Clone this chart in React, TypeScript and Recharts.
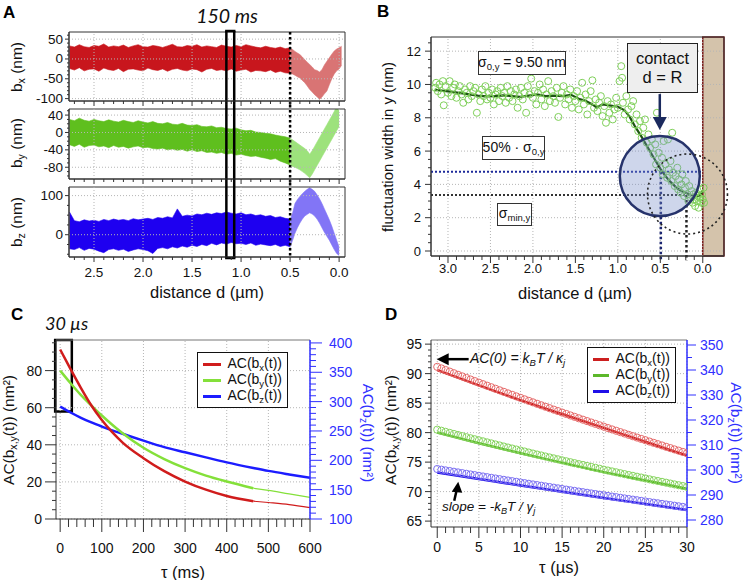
import React from 'react';
import {
  ComposedChart, Area, Line, Scatter, XAxis, YAxis,
  ReferenceLine, ReferenceArea, ReferenceDot, Legend,
} from 'recharts';

const FONT = '"Liberation Sans", Arial, Helvetica, sans-serif';
const AXIS = '#333';
const GRID = '#b5b5b5';
const RIGHT_BLUE = '#3030ff';

// ---------- A: bead traces versus distance ----------
const aDistDark = [2.75, 2.7, 2.65, 2.6, 2.55, 2.5, 2.45, 2.4, 2.35, 2.3, 2.25, 2.2, 2.15, 2.1, 2.05, 2.0, 1.95, 1.9, 1.85, 1.8, 1.75, 1.7, 1.65, 1.6, 1.55, 1.5, 1.45, 1.4, 1.35, 1.3, 1.25, 1.2, 1.15, 1.1, 1.05, 1.0, 0.95, 0.9, 0.85, 0.8, 0.75, 0.7, 0.65, 0.6, 0.55, 0.5];
const aDistLight = [0.5, 0.475, 0.45, 0.425, 0.4, 0.375, 0.35, 0.325, 0.3, 0.275, 0.25, 0.225, 0.2, 0.175, 0.15, 0.125, 0.1, 0.075, 0.05, 0.025, 0, -0.025];

const bxHi = [33, 30, 36, 31, 29, 34, 32, 38, 30, 33, 31, 35, 29, 33, 36, 31, 30, 34, 32, 29, 33, 37, 31, 30, 34, 32, 36, 30, 33, 31, 29, 35, 32, 30, 34, 31, 36, 33, 30, 28, 32, 29, 27, 30, 26, 28];
const bxLo = [-24, -28, -22, -30, -26, -25, -31, -23, -27, -29, -24, -32, -26, -25, -28, -30, -23, -27, -29, -25, -31, -26, -24, -28, -30, -25, -27, -33, -26, -24, -29, -27, -30, -25, -31, -28, -26, -33, -29, -30, -32, -28, -34, -31, -35, -36];
const bxNearHi = [27, 24, 19, 15, 11, 5, -2, -8, -14, -20, -27, -29, -33, -27, -15, -6, 3, 12, 20, 25, 28, 32];
const bxNearLo = [-36, -38, -41, -45, -48, -54, -60, -68, -77, -83, -90, -95, -102, -96, -88, -81, -65, -50, -38, -30, -25, -16];

const byHi = [30, 27, 33, 28, 26, 30, 27, 25, 29, 26, 24, 28, 25, 23, 27, 24, 22, 25, 21, 20, 23, 19, 18, 21, 17, 16, 18, 14, 13, 15, 11, 12, 9, 8, 10, 6, 4, 5, 1, 0, -2, -3, -6, -8, -10, -13];
const byLo = [-28, -32, -27, -34, -30, -29, -33, -31, -35, -30, -34, -32, -36, -33, -31, -35, -34, -37, -38, -36, -40, -38, -41, -39, -43, -40, -44, -42, -46, -45, -48, -46, -50, -48, -52, -50, -53, -55, -54, -57, -59, -62, -60, -66, -70, -75];
const byNearHi = [-13, -17, -21, -25, -29, -33, -37, -42, -50, -42, -32, -22, -12, -2, 8, 18, 28, 38, 48, 60, 62, null];
const byNearLo = [-75, -78, -80, -83, -86, -90, -94, -99, -104, -96, -86, -76, -66, -56, -46, -36, -26, -16, -6, 4, 14, null];

const bzHi = [58, 36, 33, 38, 35, 37, 34, 39, 36, 40, 37, 39, 36, 41, 38, 40, 42, 39, 44, 42, 46, 43, 66, 47, 50, 48, 53, 51, 55, 52, 56, 54, 58, 55, 53, 56, 51, 53, 49, 51, 47, 49, 44, 46, 42, 40];
const bzLo = [-36, -38, -33, -40, -35, -37, -42, -46, -38, -36, -40, -37, -43, -39, -36, -38, -41, -48, -35, -33, -36, -31, -34, -29, -32, -27, -30, -25, -28, -22, -26, -21, -24, -20, -23, -22, -25, -21, -27, -24, -26, -28, -25, -30, -27, -31];
const bzNearHi = [38, 55, 80, 90, 98, 105, 111, 116, 120, 116, 111, 102, 92, 80, 66, 52, 38, 22, 4, -14, -32, null];
const bzNearLo = [-31, -15, 4, 18, 30, 40, 48, 52, 56, 53, 48, 40, 30, 18, 6, -4, -14, -26, -38, -48, -53, null];

const aXTicks = [2.7, 2.6, 2.5, 2.4, 2.3, 2.2, 2.1, 2.0, 1.9, 1.8, 1.7, 1.6, 1.5, 1.4, 1.3, 1.2, 1.1, 1.0, 0.9, 0.8, 0.7, 0.6, 0.5, 0.4, 0.3, 0.2, 0.1, 0];
const aXMajors = [2.5, 2.0, 1.5, 1.0, 0.5, 0];
const aY1Ticks = [-100, -90, -80, -70, -60, -50, -40, -30, -20, -10, 0, 10, 20, 30, 40, 50, 60];
const aY1Majors = [-100, -50, 0, 50];
const aY2Ticks = [-100, -90, -80, -70, -60, -50, -40, -30, -20, -10, 0, 10, 20, 30, 40, 50];
const aY2Majors = [-80, -40, 0, 40];
const aY3Ticks = [-50, -25, 0, 25, 50, 75, 100];
const aY3Majors = [0, 100];
const aWindow = [1.15, 1.07]; // the 150 ms window
const aContact = 0.5;
// vertical reach of the window / contact marker in each strip (strip units), bridging the gaps
const aReach = [[70.5, -116], [63.2, -116.2], [132.2, -59.6]];

// ---------- B: fluctuation width ----------
const bDist = [
  3.15, 3.14, 3.12, 3.10, 3.08, 3.06, 3.05, 3.03, 3.00, 2.98,
  2.96, 2.94, 2.92, 2.90, 2.88, 2.86, 2.84, 2.82, 2.80, 2.78,
  2.76, 2.74, 2.72, 2.70, 2.68, 2.66, 2.64, 2.62, 2.60, 2.58,
  2.56, 2.54, 2.52, 2.50, 2.48, 2.46, 2.44, 2.42, 2.40, 2.38,
  2.36, 2.34, 2.32, 2.30, 2.28, 2.26, 2.24, 2.22, 2.20, 2.18,
  2.16, 2.14, 2.12, 2.10, 2.08, 2.06, 2.04, 2.02, 2.00, 1.98,
  1.96, 1.94, 1.92, 1.90, 1.88, 1.86, 1.84, 1.82, 1.80, 1.78,
  1.76, 1.74, 1.72, 1.70, 1.68, 1.66, 1.64, 1.62, 1.60, 1.58,
  1.56, 1.54, 1.52, 1.50, 1.48, 1.46, 1.44, 1.42, 1.40, 1.38,
  1.36, 1.34, 1.32, 1.30, 1.28, 1.26, 1.24, 1.22, 1.20, 1.18,
  1.16, 1.14, 1.12, 1.10, 1.08, 1.06, 1.04, 1.02, 1.00, 0.98,
  0.96, 0.95, 0.94, 0.92, 0.90, 0.88, 0.86, 0.84, 0.82, 0.80,
  0.78, 0.76, 0.74, 0.72, 0.70, 0.68, 0.66, 0.64, 0.62, 0.60,
  0.58, 0.56, 0.55, 0.54, 0.52, 0.50, 0.48, 0.47, 0.46, 0.44,
  0.42, 0.41, 0.40, 0.38, 0.37, 0.36, 0.35, 0.33, 0.32, 0.30,
  0.29, 0.28, 0.26, 0.25, 0.24, 0.22, 0.21, 0.20, 0.18, 0.17,
  0.16, 0.14, 0.13, 0.12, 0.11, 0.10, 0.09, 0.08, 0.07, 0.06,
  0.05, 0.04, 0.03, 0.02, 0.01, 0.00, -0.01, -0.015,
];
const bWidth = [
  9.8, 10.1, 9.6, 10.0, 9.4, 10.2, 8.75, 9.9, 9.5, 10.2,
  9.3, 9.8, 10.0, 9.2, 9.6, 9.9, 9.4, 8.9, 9.7, 9.5,
  9.1, 9.9, 9.3, 9.6, 9.8, 8.3, 9.4, 9.0, 9.7, 9.3,
  9.9, 9.1, 9.5, 9.2, 9.7, 8.8, 9.4, 9.6, 9.0, 9.8,
  9.3, 9.5, 8.9, 9.9, 9.2, 9.6, 9.0, 9.4, 9.7, 8.6,
  9.3, 9.8, 9.1, 9.5, 8.3, 9.9, 9.4, 10.35, 9.2, 9.6,
  8.8, 9.5, 10.0, 9.1, 9.7, 8.7, 9.4, 10.2, 9.0, 9.6,
  9.3, 8.9, 9.8, 8.05, 9.2, 9.5, 9.9, 8.8, 9.4, 9.1,
  9.7, 8.6, 9.3, 9.0, 9.6, 8.5, 9.2, 10.1, 8.8, 9.4,
  8.2, 9.0, 9.6, 10.25, 8.6, 9.1, 8.4, 8.9, 9.3, 8.1,
  8.7, 7.7, 9.0, 8.3, 8.8, 7.9, 8.5, 9.2, 8.6, 10.2,
  11.1, 10.4, 8.9, 8.2, 9.3, 8.5, 7.9, 8.7, 9.0, 7.6,
  8.2, 7.2, 7.8, 6.8, 7.4, 7.9, 6.5, 7.0, 6.2, 6.7,
  5.8, 6.4, 5.2, 8.3, 5.9, 5.0, 5.6, 4.6, 6.6, 5.2,
  4.4, 6.7, 4.9, 5.4, 4.2, 7.1, 4.7, 3.9, 4.5, 5.0,
  3.7, 4.3, 3.5, 4.0, 4.6, 3.3, 3.8, 4.2, 3.4, 3.0,
  3.9, 3.2, 3.6, 2.9, 3.4, 3.1, 2.7, 3.5, 3.0, 3.3,
  2.6, 3.2, 3.7, 2.9, 3.4, 3.1, 3.8, 2.9,
];
const bAvgDist = [3.15, 3.05, 2.95, 2.85, 2.75, 2.65, 2.55, 2.45, 2.35, 2.25, 2.15, 2.05, 1.95, 1.85, 1.75, 1.65, 1.55, 1.45, 1.38, 1.30, 1.25, 1.18, 1.10, 1.00, 0.92, 0.86, 0.80, 0.72, 0.64, 0.56, 0.50, 0.44, 0.38, 0.32, 0.26, 0.20, 0.14, 0.08, 0.04, 0.02, 0.0];
const bAvgWidth = [9.68, 9.62, 9.55, 9.48, 9.40, 9.33, 9.28, 9.30, 9.34, 9.30, 9.26, 9.33, 9.40, 9.30, 9.33, 9.30, 9.38, 9.12, 9.02, 8.80, 8.62, 8.80, 8.74, 8.66, 8.45, 8.05, 7.50, 6.85, 6.15, 5.45, 4.95, 4.50, 4.15, 3.85, 3.62, 3.48, 3.38, 3.32, 3.30, 3.45, 3.60];
const bXTicks = [3.1, 3.0, 2.9, 2.8, 2.7, 2.6, 2.5, 2.4, 2.3, 2.2, 2.1, 2.0, 1.9, 1.8, 1.7, 1.6, 1.5, 1.4, 1.3, 1.2, 1.1, 1.0, 0.9, 0.8, 0.7, 0.6, 0.5, 0.4, 0.3, 0.2, 0.1, 0];
const bXMajors = [3.0, 2.5, 2.0, 1.5, 1.0, 0.5, 0];
const bYTicks = [0, 0.5, 1, 1.5, 2, 2.5, 3, 3.5, 4, 4.5, 5, 5.5, 6, 6.5, 7, 7.5, 8, 8.5, 9, 9.5, 10, 10.5, 11, 11.5, 12, 12.5];
const bYMajors = [0, 2, 4, 6, 8, 10, 12];
const bHalfLevel = 4.76;
const bMinLevel = 3.36;
const bContact = 0.494;
const bMinDist = 0.192;
const bBeadA = { d: 0.506, w: 4.5 };
const bBeadB = { d: 0.18, w: 3.42 };
const bArrowTip = { d: 0.506, w: 7.26 };

// ---------- C: autocorrelation, long times ----------
const cTau = [0, 25, 50, 75, 100, 125, 150, 200, 250, 300, 350, 400, 464, 500, 550, 600];
const cRed = [91.4, 80.8, 70.6, 61.2, 53.4, 46.8, 41.2, 32.8, 25.8, 20.2, 15.8, 12.4, 9.6, null, null, null];
const cRedTail = [null, null, null, null, null, null, null, null, null, null, null, null, 9.6, 8.9, 7.8, 6.1];
const cGreen = [80.0, 73.2, 66.8, 61.2, 55.8, 50.8, 46.2, 38.4, 32.3, 27.4, 23.4, 20.2, 16.6, null, null, null];
const cGreenTail = [null, null, null, null, null, null, null, null, null, null, null, null, 16.6, 15.4, 13.5, 11.7];
const cBlue = [291.4, 281.5, 272.5, 264.5, 257.5, 251.0, 245.2, 233.5, 222.5, 213.7, 205.0, 196.5, 187.0, 182.0, 176.0, 170.4];
const cXTicks = [0, 20, 40, 60, 80, 100, 120, 140, 160, 180, 200, 220, 240, 260, 280, 300, 320, 340, 360, 380, 400, 420, 440, 460, 480, 500, 520, 540, 560, 580, 600];
const cXMajors = [0, 100, 200, 300, 400, 500, 600];
const cYTicks = [0, 5, 10, 15, 20, 25, 30, 35, 40, 45, 50, 55, 60, 65, 70, 75, 80, 85, 90, 95];
const cYMajors = [0, 20, 40, 60, 80];
const cY2Ticks = [100, 110, 120, 130, 140, 150, 160, 170, 180, 190, 200, 210, 220, 230, 240, 250, 260, 270, 280, 290, 300, 310, 320, 330, 340, 350, 360, 370, 380, 390, 400];
const cY2Majors = [100, 150, 200, 250, 300, 350, 400];
const cWindow = [-12, 28, 58];

// ---------- D: autocorrelation, first 30 µs ----------
const dTau = [0, 0.5, 1, 1.5, 2, 2.5, 3, 3.5, 4, 4.5, 5, 5.5, 6, 6.5, 7, 7.5, 8, 8.5, 9, 9.5, 10, 10.5, 11, 11.5, 12, 12.5, 13, 13.5, 14, 14.5, 15, 15.5, 16, 16.5, 17, 17.5, 18, 18.5, 19, 19.5, 20, 20.5, 21, 21.5, 22, 22.5, 23, 23.5, 24, 24.5, 25, 25.5, 26, 26.5, 27, 27.5, 28, 28.5, 29, 29.5, 30];
const dRedPts = [91.15, 90.88, 90.61, 90.34, 90.07, 89.80, 89.53, 89.27, 89.00, 88.74, 88.47, 88.21, 87.95, 87.69, 87.43, 87.17, 86.91, 86.65, 86.40, 86.14, 85.89, 85.64, 85.38, 85.13, 84.88, 84.63, 84.38, 84.14, 83.89, 83.65, 83.40, 83.16, 82.91, 82.67, 82.43, 82.19, 81.95, 81.71, 81.48, 81.24, 81.01, 80.77, 80.54, 80.31, 80.08, 79.85, 79.62, 79.39, 79.16, 78.93, 78.71, 78.48, 78.26, 78.04, 77.82, 77.59, 77.37, 77.15, 76.94, 76.72, 76.50];
const dGreenPts = [80.50, 80.32, 80.13, 79.95, 79.77, 79.59, 79.40, 79.22, 79.04, 78.87, 78.69, 78.52, 78.34, 78.17, 77.99, 77.82, 77.64, 77.47, 77.30, 77.13, 76.96, 76.79, 76.62, 76.45, 76.28, 76.12, 75.95, 75.79, 75.63, 75.47, 75.30, 75.14, 74.98, 74.82, 74.66, 74.51, 74.35, 74.19, 74.03, 73.88, 73.72, 73.57, 73.42, 73.27, 73.11, 72.96, 72.81, 72.67, 72.52, 72.38, 72.23, 72.08, 71.93, 71.79, 71.65, 71.51, 71.36, 71.22, 71.08, 70.94, 70.80];
const dBluePts = [300.40, 300.12, 299.85, 299.58, 299.30, 299.03, 298.75, 298.48, 298.21, 297.94, 297.67, 297.40, 297.13, 296.86, 296.59, 296.33, 296.06, 295.80, 295.53, 295.27, 295.00, 294.74, 294.48, 294.22, 293.96, 293.70, 293.44, 293.18, 292.92, 292.66, 292.40, 292.15, 291.89, 291.64, 291.38, 291.13, 290.88, 290.62, 290.37, 290.12, 289.87, 289.62, 289.37, 289.13, 288.88, 288.63, 288.39, 288.14, 287.90, 287.65, 287.41, 287.16, 286.92, 286.68, 286.44, 286.20, 285.96, 285.72, 285.48, 285.24, 285.00];
const dFitTau = [0, 5, 10, 15, 20, 25, 30];
const dFitRed = [90.6, 88.0, 85.5, 83.15, 80.8, 78.45, 76.1];
const dFitGreen = [80.0, 78.2, 76.5, 74.9, 73.3, 71.9, 70.5];
const dFitBlue = [299.0, 296.4, 293.8, 291.3, 288.8, 286.4, 284.0];
const dXTicks = [0, 1, 2, 3, 4, 5, 6, 7, 8, 9, 10, 11, 12, 13, 14, 15, 16, 17, 18, 19, 20, 21, 22, 23, 24, 25, 26, 27, 28, 29, 30];
const dXMajors = [0, 5, 10, 15, 20, 25, 30];
const dYTicks = [65, 66, 67, 68, 69, 70, 71, 72, 73, 74, 75, 76, 77, 78, 79, 80, 81, 82, 83, 84, 85, 86, 87, 88, 89, 90, 91, 92, 93, 94, 95];
const dYMajors = [65, 70, 75, 80, 85, 90, 95];
const dY2Ticks = [280, 285, 290, 295, 300, 305, 310, 315, 320, 325, 330, 335, 340, 345, 350];
const dY2Majors = [280, 290, 300, 310, 320, 330, 340, 350];
const dArrowAC0 = { t: -0.07, v: 92.45 };
const dArrowSlope = { t: 2.52, v: 71.66 };

const legendSubs = ['x', 'y', 'z'];
const cColors = ['#d01c1c', '#84e03a', '#1c1cff'];
const dColors = ['#cc1f1f', '#5cb82a', '#1f10e8'];
const dCircleColors = ['#e66a6a', '#86d45e', '#7b6ff2'];

type TickCfg = {
  side: 'bottom' | 'left' | 'right';
  majors: number[];
  big: number;
  small: number;
  gap: number;
  color?: string;
  size?: number;
  digits?: number;
  labels?: boolean;
};

const tick = (c: TickCfg) => (p: any) => {
  const v = p.payload.value as number;
  const isMajor = c.majors.includes(v);
  const len = isMajor ? c.big : c.small;
  const col = c.color ?? AXIS;
  const txt = isMajor && c.labels !== false ? (c.digits ? v.toFixed(c.digits) : String(v)) : '';
  const font = { fontSize: c.size ?? 13, fontFamily: FONT, fill: c.color ?? '#111' };
  if (c.side === 'bottom') {
    return (
      <g>
        <line x1={p.x} x2={p.x} y1={p.y} y2={p.y + len} stroke={col} strokeWidth={1} />
        {txt && <text x={p.x} y={p.y + c.gap} textAnchor="middle" dominantBaseline="central" {...font}>{txt}</text>}
      </g>
    );
  }
  const s = c.side === 'left' ? -1 : 1;
  return (
    <g>
      <line x1={p.x} x2={p.x + s * len} y1={p.y} y2={p.y} stroke={col} strokeWidth={1} />
      {txt && <text x={p.x + s * c.gap} y={p.y} textAnchor={s < 0 ? 'end' : 'start'} dominantBaseline="central" {...font}>{txt}</text>}
    </g>
  );
};

const Sub = ({ children }: any) => (
  <span style={{ fontSize: '0.68em', verticalAlign: '-0.3em' }}>{children}</span>
);

const Txt = ({ x, y, rot = 0, size = 15, color = '#111', italic = false, family = FONT, anchor = 'center', children }: any) => (
  <div
    style={{
      position: 'absolute', left: x, top: y,
      transform: `translate(${anchor === 'start' ? '0' : '-50%'}, -50%) rotate(${rot}deg)`,
      fontSize: size, color, fontStyle: italic ? 'italic' : 'normal', fontFamily: family,
      whiteSpace: 'nowrap', lineHeight: 1,
    }}
  >
    {children}
  </div>
);

const Box = ({ left, top, width, height, bg = '#fff', border = '1px solid #333', size = 14, children }: any) => (
  <div
    style={{
      position: 'absolute', left, top, width, height, boxSizing: 'border-box', background: bg, border,
      display: 'flex', flexDirection: 'column', alignItems: 'center', justifyContent: 'center',
      fontFamily: FONT, fontSize: size, color: '#111', lineHeight: 1.15, whiteSpace: 'nowrap',
    }}
  >
    {children}
  </div>
);

const LegendBox = ({ colors, width, rowH }: any) => (
  <div style={{ border: '1.5px solid #111', background: '#fff', padding: '3px 5px', width, boxSizing: 'border-box', fontFamily: FONT, fontSize: 14, color: '#111' }}>
    {legendSubs.map((s, i) => (
      <div key={s} style={{ display: 'flex', alignItems: 'center', height: rowH }}>
        <span style={{ display: 'inline-block', width: 24, height: 3, background: colors[i], marginRight: 6 }} />
        <span>AC(b<Sub>{s}</Sub>(t))</span>
      </div>
    ))}
  </div>
);

const A_X: [number, number] = [-0.06, 2.755];

const bandRows = (hi: number[], lo: number[], nearHi: (number | null)[], nearLo: (number | null)[]) => [
  ...aDistDark.map((d, i) => ({ d, dark: [lo[i], hi[i]] })),
  ...aDistLight.map((d, i) => ({ d, light: nearHi[i] === null ? null : [nearLo[i], nearHi[i]] })),
];

const Trace = ({ rows, dark, light, yDomain, yTicks, yMajors, top, height, mTop, xH, labels, reach, capTop, capBottom }: any) => {
  const dotTop = Math.min(reach[0], capTop ? yDomain[1] : reach[0]);
  const dotBottom = capBottom ? yDomain[0] : reach[1];
  return (
    <div style={{ position: 'absolute', left: 0, top }}>
      <ComposedChart width={360} height={height} data={rows} margin={{ top: mTop, right: 15, bottom: 0, left: 0 }}>
        <XAxis type="number" dataKey="d" domain={A_X} reversed allowDataOverflow ticks={aXTicks} interval={0}
          height={xH} tickSize={0} tickMargin={0} tickLine={false} axisLine={{ stroke: AXIS }}
          tick={tick({ side: 'bottom', majors: aXMajors, big: 5, small: 3, gap: 15, digits: 1, labels, size: 13.5 })} />
        <YAxis type="number" domain={yDomain} allowDataOverflow ticks={yTicks} interval={0} width={69}
          tickSize={0} tickMargin={0} tickLine={false} axisLine={{ stroke: AXIS }}
          tick={tick({ side: 'left', majors: yMajors, big: 4, small: 2, gap: 6, size: 13.5 })} />
        {aXMajors.map((v) => <ReferenceLine key={'gx' + v} x={v} stroke={GRID} strokeDasharray="1 2" />)}
        {yMajors.map((v: number) => <ReferenceLine key={'gy' + v} y={v} stroke={GRID} strokeDasharray="1 2" />)}
        <Area dataKey="dark" type="linear" stroke={dark} strokeWidth={0.6} fill={dark} fillOpacity={1} dot={false} activeDot={false} isAnimationActive={false} />
        <Area dataKey="light" type="linear" stroke={light} strokeWidth={0.6} fill={light} fillOpacity={1} dot={false} activeDot={false} isAnimationActive={false} />
        <ReferenceArea x1={A_X[0]} x2={A_X[1]} y1={yDomain[0]} y2={yDomain[1]} fill="none" stroke={AXIS} ifOverflow="visible" />
        <ReferenceLine segment={[{ x: aContact, y: dotTop }, { x: aContact, y: dotBottom }]} stroke="#000" strokeWidth={2.5} strokeDasharray="2.5 2.5" ifOverflow="visible" />
        {aWindow.map((x) => (
          <ReferenceLine key={'w' + x} segment={[{ x, y: reach[0] }, { x, y: reach[1] }]} stroke="#000" strokeWidth={2.5} ifOverflow="visible" />
        ))}
        {capTop && <ReferenceLine segment={[{ x: aWindow[0], y: reach[0] }, { x: aWindow[1], y: reach[0] }]} stroke="#000" strokeWidth={2.5} strokeLinecap="square" ifOverflow="visible" />}
        {capBottom && <ReferenceLine segment={[{ x: aWindow[0], y: reach[1] }, { x: aWindow[1], y: reach[1] }]} stroke="#000" strokeWidth={2.5} strokeLinecap="square" ifOverflow="visible" />}
      </ComposedChart>
    </div>
  );
};

export default function App() {
  const rowsX = bandRows(bxHi, bxLo, bxNearHi, bxNearLo);
  const rowsY = bandRows(byHi, byLo, byNearHi, byNearLo);
  const rowsZ = bandRows(bzHi, bzLo, bzNearHi, bzNearLo);
  const bScatter = bDist.map((d, i) => ({ d, w: bWidth[i] }));
  const bAvg = bAvgDist.map((d, i) => ({ d, w: bAvgWidth[i] }));
  const cRows = cTau.map((t, i) => ({ t, red: cRed[i], redTail: cRedTail[i], green: cGreen[i], greenTail: cGreenTail[i], blue: cBlue[i] }));
  const dRed = dTau.map((t, i) => ({ t, v: dRedPts[i] }));
  const dGreen = dTau.map((t, i) => ({ t, v: dGreenPts[i] }));
  const dBlue = dTau.map((t, i) => ({ t, v: dBluePts[i] }));
  const dFit = dFitTau.map((t, i) => ({ t, red: dFitRed[i], green: dFitGreen[i], blue: dFitBlue[i] }));
  const ring = (col: string, r = 3.3) => (p: any) => <circle cx={p.cx} cy={p.cy} r={r} fill="none" stroke={col} strokeWidth={1} />;

  return (
    <div style={{ position: 'absolute', left: 0, top: 0, width: 744, height: 580, background: '#fff', overflow: 'hidden', fontFamily: FONT }}>
      {/* ---------------- A ---------------- */}
      <Trace rows={rowsX} dark="#c8161d" light="#d97474" yDomain={[-106, 68]} yTicks={aY1Ticks} yMajors={aY1Majors}
        top={0} height={110} mTop={32} xH={9} labels={false} reach={aReach[0]} capTop />
      <Trace rows={rowsY} dark="#5fbf1e" light="#9de27c" yDomain={[-107, 54]} yTicks={aY2Ticks} yMajors={aY2Majors}
        top={100} height={88} mTop={9} xH={9} labels={false} reach={aReach[1]} />
      <Trace rows={rowsZ} dark="#1e00f0" light="#8275f6" yDomain={[-57, 122]} yTicks={aY3Ticks} yMajors={aY3Majors}
        top={178} height={122} mTop={9} xH={43} labels reach={aReach[2]} capBottom />
      <Txt x={18} y={67} rot={-90} size={15.5}>b<Sub>x</Sub> (nm)</Txt>
      <Txt x={18} y={143} rot={-90} size={15.5}>b<Sub>y</Sub> (nm)</Txt>
      <Txt x={18} y={222} rot={-90} size={15.5}>b<Sub>z</Sub> (nm)</Txt>
      <Txt x={207} y={292} size={16.5}>distance d (µm)</Txt>
      <Txt x={227} y={16} size={19.5} italic family='Lato, "Open Sans", sans-serif'>150 ms</Txt>
      <div style={{ position: 'absolute', left: 3, top: 4, fontSize: 17, fontWeight: 'bold', lineHeight: '17px' }}>A</div>

      {/* ---------------- B ---------------- */}
      <div style={{ position: 'absolute', left: 372, top: 0 }}>
        <ComposedChart width={372} height={300} margin={{ top: 37, right: 20, bottom: 0, left: 0 }}>
          <XAxis type="number" dataKey="d" domain={[-0.25, 3.2]} reversed allowDataOverflow ticks={bXTicks} interval={0}
            height={44} tickSize={0} tickMargin={0} tickLine={false} axisLine={{ stroke: AXIS }}
            tick={tick({ side: 'bottom', majors: bXMajors, big: 7, small: 4, gap: 12, digits: 1, size: 13 })} />
          <YAxis type="number" domain={[-0.3, 12.85]} allowDataOverflow ticks={bYTicks} interval={0} width={59}
            tickSize={0} tickMargin={0} tickLine={false} axisLine={{ stroke: AXIS }}
            tick={tick({ side: 'left', majors: bYMajors, big: 6, small: 3, gap: 10, size: 13 })} />
          {bXMajors.map((v) => <ReferenceLine key={'gx' + v} x={v} stroke={GRID} strokeDasharray="1 2" />)}
          {bYMajors.map((v) => <ReferenceLine key={'gy' + v} y={v} stroke={GRID} strokeDasharray="1 2" />)}
          <Scatter data={bScatter} dataKey="w" shape={ring('#7fd05a', 3.5)} isAnimationActive={false} />
          <Line data={bAvg} dataKey="w" type="linear" stroke="#1e5412" strokeWidth={2.2} dot={false} activeDot={false} isAnimationActive={false} />
          <ReferenceDot x={bBeadA.d} y={bBeadA.w} r={40} fill="rgba(120,140,200,0.36)" stroke="#26336b" strokeWidth={2.5} ifOverflow="visible" />
          <ReferenceLine segment={[{ x: 3.2, y: bHalfLevel }, { x: 0, y: bHalfLevel }]} stroke="#1d2a9a" strokeWidth={2} strokeDasharray="2 2" ifOverflow="visible" />
          <ReferenceLine segment={[{ x: 3.2, y: bMinLevel }, { x: 0, y: bMinLevel }]} stroke="#333" strokeWidth={2} strokeDasharray="2 2" ifOverflow="visible" />
          <ReferenceLine segment={[{ x: bContact, y: bHalfLevel }, { x: bContact, y: -0.55 }]} stroke="#1b2570" strokeWidth={2.5} strokeDasharray="2.5 2.5" ifOverflow="visible" />
          <ReferenceLine segment={[{ x: bMinDist, y: bMinLevel }, { x: bMinDist, y: -0.55 }]} stroke="#222" strokeWidth={2.5} strokeDasharray="2.5 2.5" ifOverflow="visible" />
          <ReferenceDot x={bBeadB.d} y={bBeadB.w} r={40} fill="none" stroke="#222" strokeWidth={1.6} strokeDasharray="2 3" ifOverflow="visible" />
          <ReferenceArea x1={0} x2={-0.25} y1={-0.3} y2={12.85} fill="#d4c3ab" fillOpacity={1} stroke="#7a1c1c" strokeWidth={1.5} ifOverflow="visible" />
          <ReferenceDot x={bArrowTip.d} y={bArrowTip.w} r={0} ifOverflow="visible"
            shape={(p: any) => (
              <g>
                <line x1={p.cx} y1={p.cy - 36} x2={p.cx} y2={p.cy - 12} stroke="#1b2a5e" strokeWidth={2.5} />
                <polygon points={`${p.cx - 7},${p.cy - 13} ${p.cx + 7},${p.cy - 13} ${p.cx},${p.cy}`} fill="#1b2a5e" />
              </g>
            )} />
          <ReferenceArea x1={3.2} x2={-0.25} y1={-0.3} y2={12.85} fill="none" stroke={AXIS} ifOverflow="visible" />
        </ComposedChart>
      </div>
      <Box left={478} top={51} width={88} height={24}>
        <span>σ<Sub>0,y</Sub> = 9.50 nm</span>
      </Box>
      <Box left={482} top={136} width={63} height={24}>
        <span>50% · σ<Sub>0,y</Sub></span>
      </Box>
      <Box left={497} top={203} width={35} height={23}>
        <span>σ<Sub>min,y</Sub></span>
      </Box>
      <Box left={627} top={43} width={71} height={50} bg="#eeeeee" border="1.5px solid #222" size={16.5}>
        <span>contact</span>
        <span>d = R</span>
      </Box>
      <Txt x={387} y={147} rot={-90} size={15}>fluctuation width in y (nm)</Txt>
      <Txt x={575} y={293} size={16.5}>distance d (µm)</Txt>
      <div style={{ position: 'absolute', left: 377, top: 3, fontSize: 17, fontWeight: 'bold', lineHeight: '17px' }}>B</div>

      {/* ---------------- C ---------------- */}
      <div style={{ position: 'absolute', left: 0, top: 300 }}>
        <ComposedChart width={372} height={280} data={cRows} margin={{ top: 40, right: 12, bottom: 0, left: 0 }}>
          <XAxis type="number" dataKey="t" domain={[-10, 600]} allowDataOverflow ticks={cXTicks} interval={0}
            height={61} tickSize={0} tickMargin={0} tickLine={false} axisLine={{ stroke: AXIS }}
            tick={tick({ side: 'bottom', majors: cXMajors, big: 13, small: 8, gap: 29, size: 14 })} />
          <YAxis yAxisId="l" type="number" domain={[0, 96.5]} allowDataOverflow ticks={cYTicks} interval={0} width={56}
            tickSize={0} tickMargin={0} tickLine={false} axisLine={{ stroke: AXIS }}
            tick={tick({ side: 'left', majors: cYMajors, big: 11, small: 4, gap: 14, size: 14 })} />
          <YAxis yAxisId="r" orientation="right" type="number" domain={[100, 405]} allowDataOverflow ticks={cY2Ticks} interval={0} width={50}
            tickSize={0} tickMargin={0} tickLine={false} axisLine={{ stroke: RIGHT_BLUE, strokeWidth: 1.5 }}
            tick={tick({ side: 'right', majors: cY2Majors, big: 12, small: 6, gap: 19, size: 14, color: RIGHT_BLUE })} />
          {cXMajors.map((v) => <ReferenceLine yAxisId="l" key={'gx' + v} x={v} stroke={GRID} strokeDasharray="1 2" />)}
          {cYMajors.map((v) => <ReferenceLine yAxisId="l" key={'gy' + v} y={v} stroke={GRID} strokeDasharray="1 2" />)}
          <ReferenceLine yAxisId="l" y={96.5} stroke="#777" />
          <Line yAxisId="l" dataKey="redTail" type="monotone" stroke={cColors[0]} strokeWidth={1.2} dot={false} activeDot={false} isAnimationActive={false} />
          <Line yAxisId="l" dataKey="greenTail" type="monotone" stroke={cColors[1]} strokeWidth={1.2} dot={false} activeDot={false} isAnimationActive={false} />
          <Line yAxisId="r" dataKey="blue" type="monotone" stroke={cColors[2]} strokeWidth={2.5} dot={false} activeDot={false} isAnimationActive={false} />
          <Line yAxisId="l" dataKey="green" type="monotone" stroke={cColors[1]} strokeWidth={2.5} dot={false} activeDot={false} isAnimationActive={false} />
          <Line yAxisId="l" dataKey="red" type="monotone" stroke={cColors[0]} strokeWidth={2.5} dot={false} activeDot={false} isAnimationActive={false} />
          <ReferenceArea yAxisId="l" x1={cWindow[0]} x2={cWindow[1]} y1={cWindow[2]} y2={96.5} fill="none" stroke="#000" strokeWidth={2.5} ifOverflow="visible" />
          <Legend layout="vertical" align="center" verticalAlign="middle"
            wrapperStyle={{ left: 197, top: 52, width: 91 }}
            content={() => <LegendBox colors={cColors} width={91} rowH={16} />} />
        </ComposedChart>
      </div>
      <Txt x={10} y={430} rot={-90} size={15.5}>AC(b<Sub>x,y</Sub>(t)) (nm²)</Txt>
      <Txt x={367} y={433} rot={90} size={15} color={RIGHT_BLUE}>AC(b<Sub>z</Sub>(t)) (nm²)</Txt>
      <Txt x={183} y={572} size={16.5}>τ (ms)</Txt>
      <Txt x={45} y={323} size={18} italic anchor="start" family='Lato, "Open Sans", sans-serif'>30 µs</Txt>
      <div style={{ position: 'absolute', left: 11, top: 306, fontSize: 17, fontWeight: 'bold', lineHeight: '17px' }}>C</div>

      {/* ---------------- D ---------------- */}
      <div style={{ position: 'absolute', left: 372, top: 300 }}>
        <ComposedChart width={372} height={280} margin={{ top: 40, right: 12, bottom: 0, left: 0 }}>
          <XAxis type="number" dataKey="t" domain={[-0.75, 30]} allowDataOverflow ticks={dXTicks} interval={0}
            height={53} tickSize={0} tickMargin={0} tickLine={false} axisLine={{ stroke: AXIS }}
            tick={tick({ side: 'bottom', majors: dXMajors, big: 11, small: 6, gap: 20, size: 14 })} />
          <YAxis yAxisId="l" type="number" domain={[64, 95.7]} allowDataOverflow ticks={dYTicks} interval={0} width={59}
            tickSize={0} tickMargin={0} tickLine={false} axisLine={{ stroke: AXIS }}
            tick={tick({ side: 'left', majors: dYMajors, big: 6, small: 3, gap: 9, size: 14 })} />
          <YAxis yAxisId="r" orientation="right" type="number" domain={[277.2, 352]} allowDataOverflow ticks={dY2Ticks} interval={0} width={45}
            tickSize={0} tickMargin={0} tickLine={false} axisLine={{ stroke: RIGHT_BLUE, strokeWidth: 1.5 }}
            tick={tick({ side: 'right', majors: dY2Majors, big: 9, small: 5, gap: 13, size: 14, color: RIGHT_BLUE })} />
          {dXMajors.map((v) => <ReferenceLine yAxisId="l" key={'gx' + v} x={v} stroke={GRID} strokeDasharray="1 2" />)}
          {dYMajors.map((v) => <ReferenceLine yAxisId="l" key={'gy' + v} y={v} stroke={GRID} strokeDasharray="1 2" />)}
          <ReferenceLine yAxisId="l" y={95.7} stroke="#777" />
          <Scatter yAxisId="l" data={dRed} dataKey="v" shape={ring(dCircleColors[0], 3.6)} isAnimationActive={false} />
          <Scatter yAxisId="l" data={dGreen} dataKey="v" shape={ring(dCircleColors[1], 3.6)} isAnimationActive={false} />
          <Scatter yAxisId="r" data={dBlue} dataKey="v" shape={ring(dCircleColors[2], 3.6)} isAnimationActive={false} />
          <Line yAxisId="l" data={dFit} dataKey="red" type="monotone" stroke={dColors[0]} strokeWidth={2.5} dot={false} activeDot={false} isAnimationActive={false} />
          <Line yAxisId="l" data={dFit} dataKey="green" type="monotone" stroke={dColors[1]} strokeWidth={2.5} dot={false} activeDot={false} isAnimationActive={false} />
          <Line yAxisId="r" data={dFit} dataKey="blue" type="monotone" stroke={dColors[2]} strokeWidth={2.5} dot={false} activeDot={false} isAnimationActive={false} />
          <ReferenceDot yAxisId="l" x={dArrowAC0.t} y={dArrowAC0.v} r={0} ifOverflow="visible"
            shape={(p: any) => (
              <g>
                <line x1={p.cx + 10} y1={p.cy} x2={p.cx + 32} y2={p.cy} stroke="#000" strokeWidth={2.5} />
                <polygon points={`${p.cx},${p.cy} ${p.cx + 12},${p.cy - 6} ${p.cx + 12},${p.cy + 6}`} fill="#000" />
              </g>
            )} />
          <ReferenceDot yAxisId="l" x={dArrowSlope.t} y={dArrowSlope.v} r={0} ifOverflow="visible"
            shape={(p: any) => (
              <g>
                <line x1={p.cx - 4} y1={p.cy + 19} x2={p.cx - 1.5} y2={p.cy + 8} stroke="#000" strokeWidth={2.5} />
                <polygon points={`${p.cx},${p.cy} ${p.cx - 6.5},${p.cy + 10} ${p.cx + 4},${p.cy + 11}`} fill="#000" />
              </g>
            )} />
          <Legend layout="vertical" align="center" verticalAlign="middle"
            wrapperStyle={{ left: 215, top: 47, width: 89 }}
            content={() => <LegendBox colors={dColors} width={89} rowH={16} />} />
        </ComposedChart>
      </div>
      <Txt x={470} y={359} size={14} italic anchor="start">AC(0) = k<Sub>B</Sub>T / κ<Sub>j</Sub></Txt>
      <Txt x={442} y={508} size={13.5} italic anchor="start">slope = -k<Sub>B</Sub>T / γ<Sub>j</Sub></Txt>
      <Txt x={392} y={430} rot={-90} size={15.5}>AC(b<Sub>x,y</Sub>(t)) (nm²)</Txt>
      <Txt x={735} y={433} rot={90} size={15.5} color={RIGHT_BLUE}>AC(b<Sub>z</Sub>(t)) (nm²)</Txt>
      <Txt x={559} y={567} size={16.5}>τ (µs)</Txt>
      <div style={{ position: 'absolute', left: 385, top: 306, fontSize: 17, fontWeight: 'bold', lineHeight: '17px' }}>D</div>
    </div>
  );
}
